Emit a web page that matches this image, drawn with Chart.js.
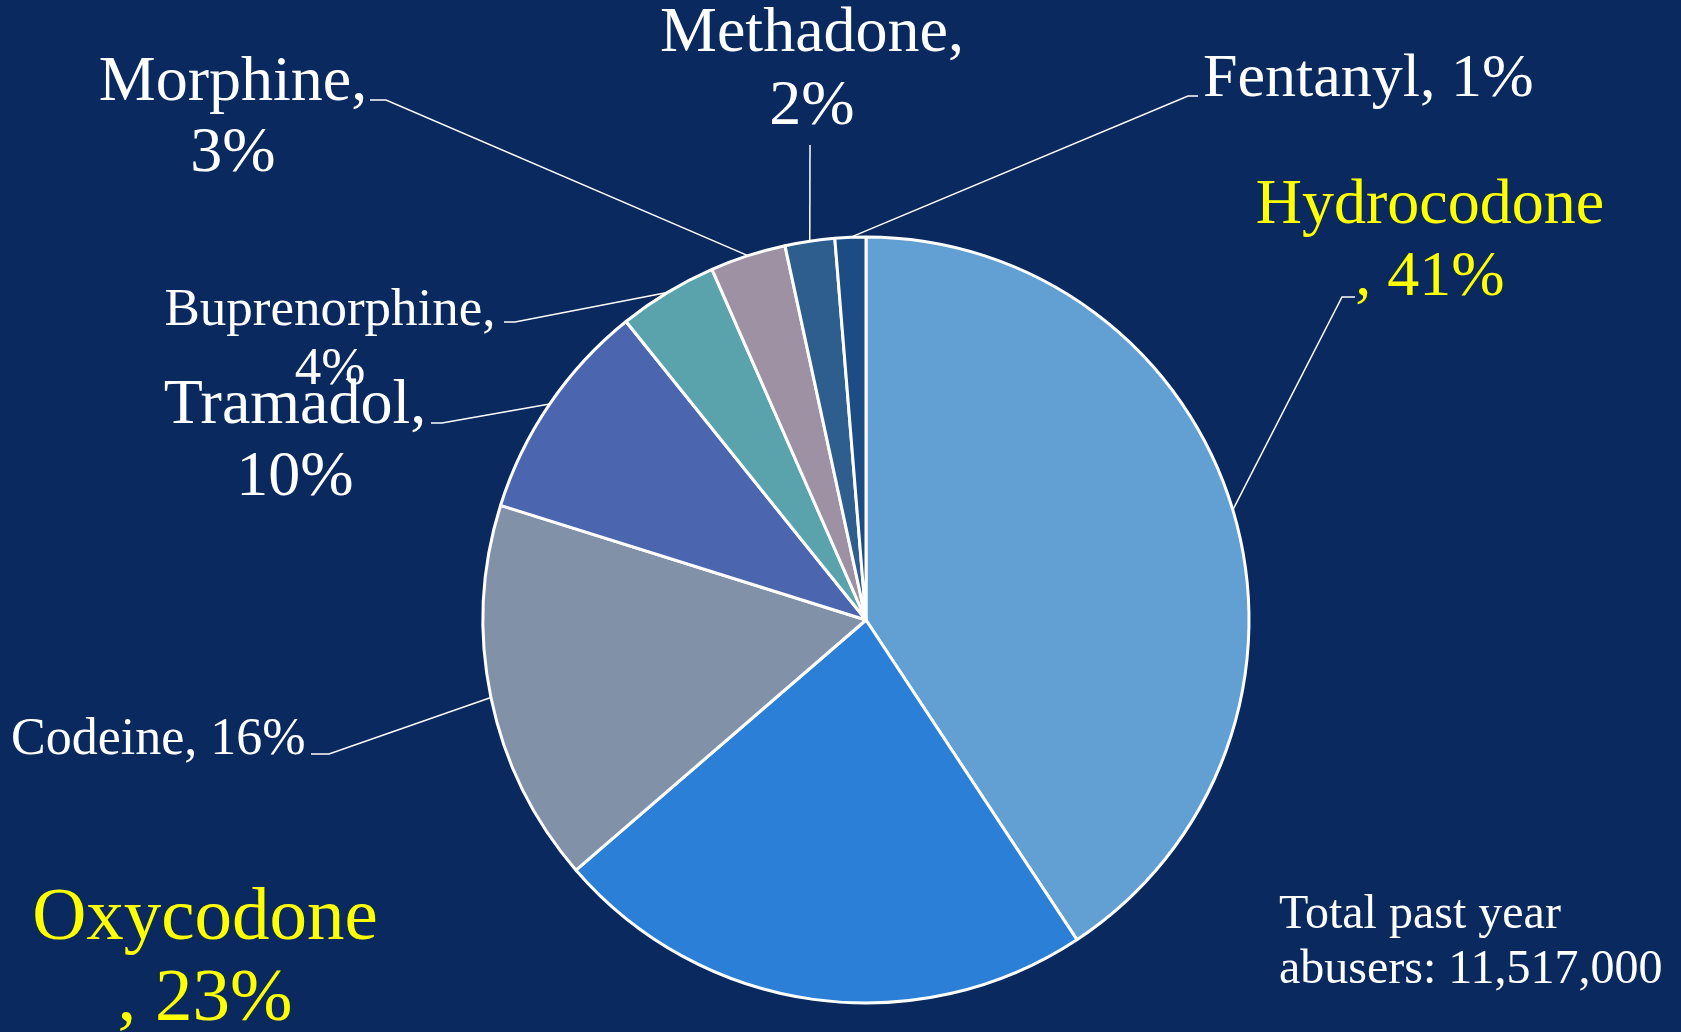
<!DOCTYPE html>
<html>
<head>
<meta charset="utf-8">
<script src="https://cdn.jsdelivr.net/npm/chart.js@4"></script>
<style>
    body { margin: 0; background: #0A2A5F; overflow: hidden; }
    #pie { display: block; }
</style>
</head>
<body>
<canvas id="pie" width="1681" height="1032"></canvas>
<script>
// opioid shares
const drugs = ['Hydrocodone', 'Oxycodone', 'Codeine', 'Tramadol', 'Buprenorphine', 'Morphine', 'Methadone', 'Fentanyl'];
const shares = [40.8, 23.0, 16.2, 9.4, 4.2, 3.2, 2.1, 1.3];
const pctLabels = ['41%', '23%', '16%', '10%', '4%', '3%', '2%', '1%'];
const sliceColors = ['#629FD2', '#2B7FD6', '#8091A8', '#4B66AE', '#5AA3AD', '#9E91A3', '#2E5E8E', '#1D4C85'];
const totalNote = ['Total past year', 'abusers: 11,517,000'];

const FONT = '"Liberation Serif", "Times New Roman", serif';

// where each label sits, and the elbow/tick of its leader line
const labelLayout = {
    Hydrocodone:   { lines: ['Hydrocodone', ', ' + pctLabels[0]], x: 1430, y: 223, lh: 72, size: 64, color: '#FFFF00', align: 'center', elbow: [1342, 297], tick: [1355, 297] },
    Oxycodone:     { lines: ['Oxycodone', ', ' + pctLabels[1]], x: 205, y: 939, lh: 81, size: 75, color: '#FFFF00', align: 'center' },
    Codeine:       { lines: ['Codeine, ' + pctLabels[2]], x: 11, y: 754, lh: 60, size: 52, color: '#fff', align: 'left', elbow: [329, 754], tick: [311, 754] },
    Tramadol:      { lines: ['Tramadol,', pctLabels[3]], x: 295, y: 423, lh: 72, size: 64, color: '#fff', align: 'center', elbow: [442, 423], tick: [431, 423] },
    Buprenorphine: { lines: ['Buprenorphine,', pctLabels[4]], x: 330, y: 325, lh: 59, size: 53, color: '#fff', align: 'center', elbow: [515, 322], tick: [504, 322] },
    Morphine:      { lines: ['Morphine,', pctLabels[5]], x: 233, y: 100, lh: 71, size: 64, color: '#fff', align: 'center', elbow: [386, 100], tick: [370, 100] },
    Methadone:     { lines: ['Methadone,', pctLabels[6]], x: 812, y: 51, lh: 73, size: 64, color: '#fff', align: 'center', elbow: [810, 145] },
    Fentanyl:      { lines: ['Fentanyl, ' + pctLabels[7]], x: 1203, y: 96, lh: 70, size: 62, color: '#fff', align: 'left', elbow: [1188, 96], tick: [1198, 96] }
};

const leaderLabels = {
    id: 'leaderLabels',
    afterDraw(chart) {
        const ctx = chart.ctx;
        const arcs = chart.getDatasetMeta(0).data;
        ctx.save();
        ctx.strokeStyle = '#fff';
        ctx.lineWidth = 1.5;
        arcs.forEach((arc, i) => {
            const lay = labelLayout[drugs[i]];
            if (!lay.elbow) return;
            const mid = (arc.startAngle + arc.endAngle) / 2;
            const ax = arc.x + Math.cos(mid) * arc.outerRadius;
            const ay = arc.y + Math.sin(mid) * arc.outerRadius;
            ctx.beginPath();
            ctx.moveTo(ax, ay);
            ctx.lineTo(lay.elbow[0], lay.elbow[1]);
            if (lay.tick) ctx.lineTo(lay.tick[0], lay.tick[1]);
            ctx.stroke();
        });
        ctx.textBaseline = 'alphabetic';
        drugs.forEach(name => {
            const lay = labelLayout[name];
            ctx.fillStyle = lay.color;
            ctx.font = `${lay.size}px ${FONT}`;
            ctx.textAlign = lay.align;
            lay.lines.forEach((txt, k) => ctx.fillText(txt, lay.x, lay.y + k * lay.lh));
        });
        // total note, bottom right
        ctx.fillStyle = '#fff';
        ctx.font = `48px ${FONT}`;
        ctx.textAlign = 'left';
        totalNote.forEach((txt, k) => ctx.fillText(txt, 1279, 928 + k * 55));
        ctx.restore();
    }
};

new Chart(document.getElementById('pie'), {
    type: 'pie',
    data: {
        labels: drugs,
        datasets: [{
            data: shares,
            backgroundColor: sliceColors,
            borderColor: '#fff',
            borderWidth: 3
        }]
    },
    options: {
        responsive: false,
        animation: false,
        radius: 383,
        layout: { padding: { left: 483, right: 432, top: 237, bottom: 29 } },
        plugins: {
            legend: { display: false },
            tooltip: { enabled: false }
        }
    },
    plugins: [leaderLabels]
});
</script>
</body>
</html>
